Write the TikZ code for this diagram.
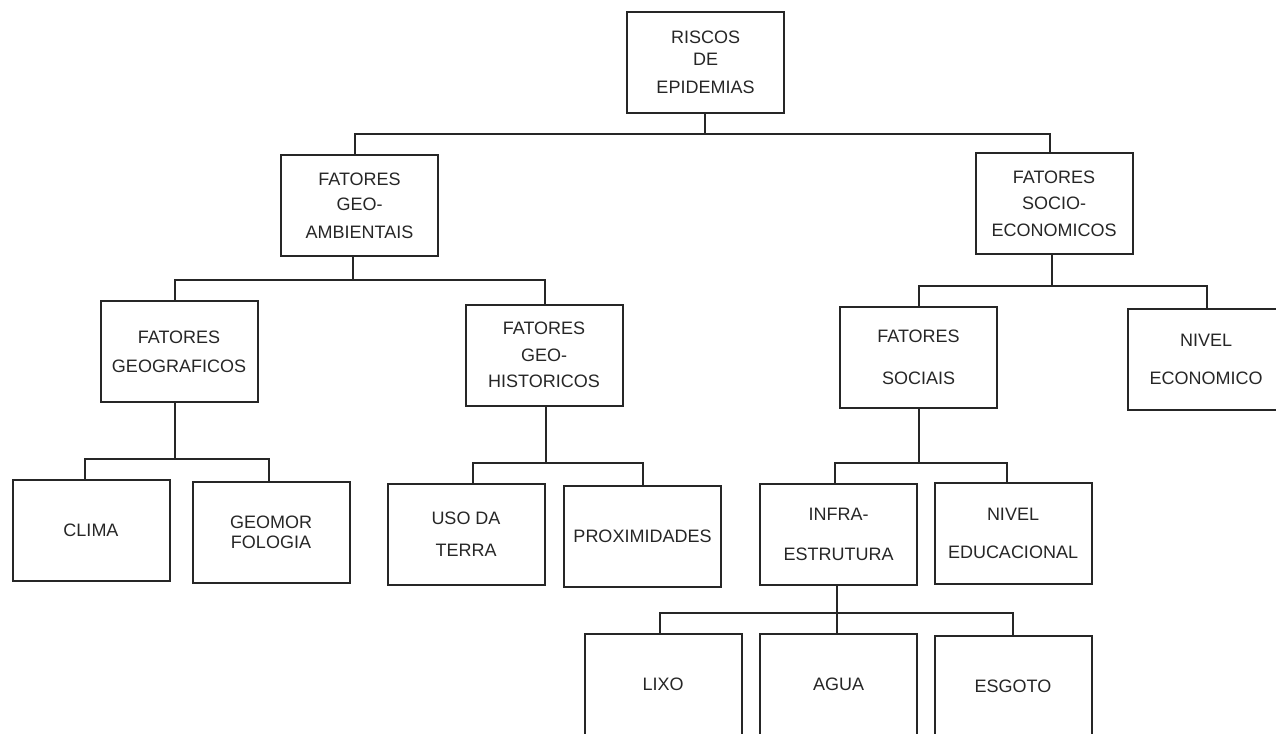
\documentclass[tikz,border=0pt]{standalone}
\usepackage{fontspec}
\setmainfont{Liberation Sans}
\usetikzlibrary{
    calc,
    positioning,
}

\begin{document}
\begin{tikzpicture}[x=1pt,y=-1pt]

    \tikzstyle{commonNode}=[font=\fontsize{18}{25}\selectfont, align=center, line width=2pt, draw=black!85, text=black!85]
    \tikzstyle{box}=[commonNode, rectangle, minimum width=157pt, minimum height=101pt, inner sep=0pt]
    \tikzstyle{link}=[line width=2pt, draw=black!85]

    % Page frame
    \useasboundingbox (0,0) rectangle (1276,733);
    \clip (0,0) rectangle (1276,733);

    \begin{scope}
        % Root
        \node at (705.5, 62.5)  [box] (riscos)  {RISCOS\\[-3pt]DE\\[3pt]EPIDEMIAS};

        % Second level
        \node at (359.5, 205.5) [box] (geoamb)  {FATORES\\GEO-\\[3pt]AMBIENTAIS};
        \node at (1054, 203.5)  [box] (socio)   {FATORES\\[1pt]SOCIO-\\[2pt]ECONOMICOS};

        % Third level
        \node at (179, 351.5)   [box] (geograf) {FATORES\\[4pt]GEOGRAFICOS};
        \node at (544, 355)     [box] (geohist) {FATORES\\[2pt]GEO-\\[1pt]HISTORICOS};
        \node at (918.5, 357.5) [box] (sociais) {FATORES\\[17pt]SOCIAIS};
        \node at (1206, 359)    [box] (nivecon) {NIVEL\\[13pt]ECONOMICO};

        % Fourth level
        \node at (91, 530)      [box] (clima)   {CLIMA};
        \node at (271, 532.5)   [box] (geomor)  {GEOMOR\\[-5pt]FOLOGIA};
        \node at (466, 534)     [box] (uso)     {USO DA\\[7pt]TERRA};
        \node at (642.5, 536)   [box] (prox)    {PROXIMIDADES};
        \node at (838.5, 534)   [box] (infra)   {INFRA-\\[15pt]ESTRUTURA};
        \node at (1013, 533.5)  [box] (niveduc) {NIVEL\\[13pt]EDUCACIONAL};

        % Bottom level (cut by the page edge)
        \node at (663, 684)     [box] (lixo)    {LIXO};
        \node at (838.5, 684)   [box] (agua)    {AGUA};
        \node at (1013, 686)    [box] (esgoto)  {ESGOTO};

        % Connectors
        \draw [link] ([xshift=-5pt]geoamb.north) -- ++(0,-20) coordinate (busA) -| ([xshift=-4pt]socio.north);
        \draw [link] ([xshift=-1pt]riscos.south) -- ([xshift=-1pt]riscos.south |- busA);

        \draw [link] ([xshift=-4pt]geograf.north) -- ++(0,-20) coordinate (busB) -| ([xshift=1pt]geohist.north);
        \draw [link] ([xshift=-7pt]geoamb.south) -- ([xshift=-7pt]geoamb.south |- busB);

        \draw [link] (sociais.north) -- ++(0,-20) coordinate (busC) -| ([xshift=1pt]nivecon.north);
        \draw [link] ([xshift=-2pt]socio.south) -- ([xshift=-2pt]socio.south |- busC);

        \draw [link] ([xshift=-6pt]clima.north) -- ++(0,-20) coordinate (busD) -| ([xshift=-2pt]geomor.north);
        \draw [link] ([xshift=-4pt]geograf.south) -- ([xshift=-4pt]geograf.south |- busD);

        \draw [link] ([xshift=7pt]uso.north) -- ++(0,-20) coordinate (busE) -| (prox.north);
        \draw [link] ([xshift=2pt]geohist.south) -- ([xshift=2pt]geohist.south |- busE);

        \draw [link] ([xshift=-4pt]infra.north) -- ++(0,-20) coordinate (busF) -| ([xshift=-6pt]niveduc.north);
        \draw [link] (sociais.south) -- (sociais.south |- busF);

        \draw [link] ([xshift=-3pt]lixo.north) -- ++(0,-20) coordinate (busG) -| (esgoto.north);
        \draw [link] ([xshift=-2pt]infra.south) -- ([xshift=-2pt]agua.north);
    \end{scope}

\end{tikzpicture}
\end{document}
